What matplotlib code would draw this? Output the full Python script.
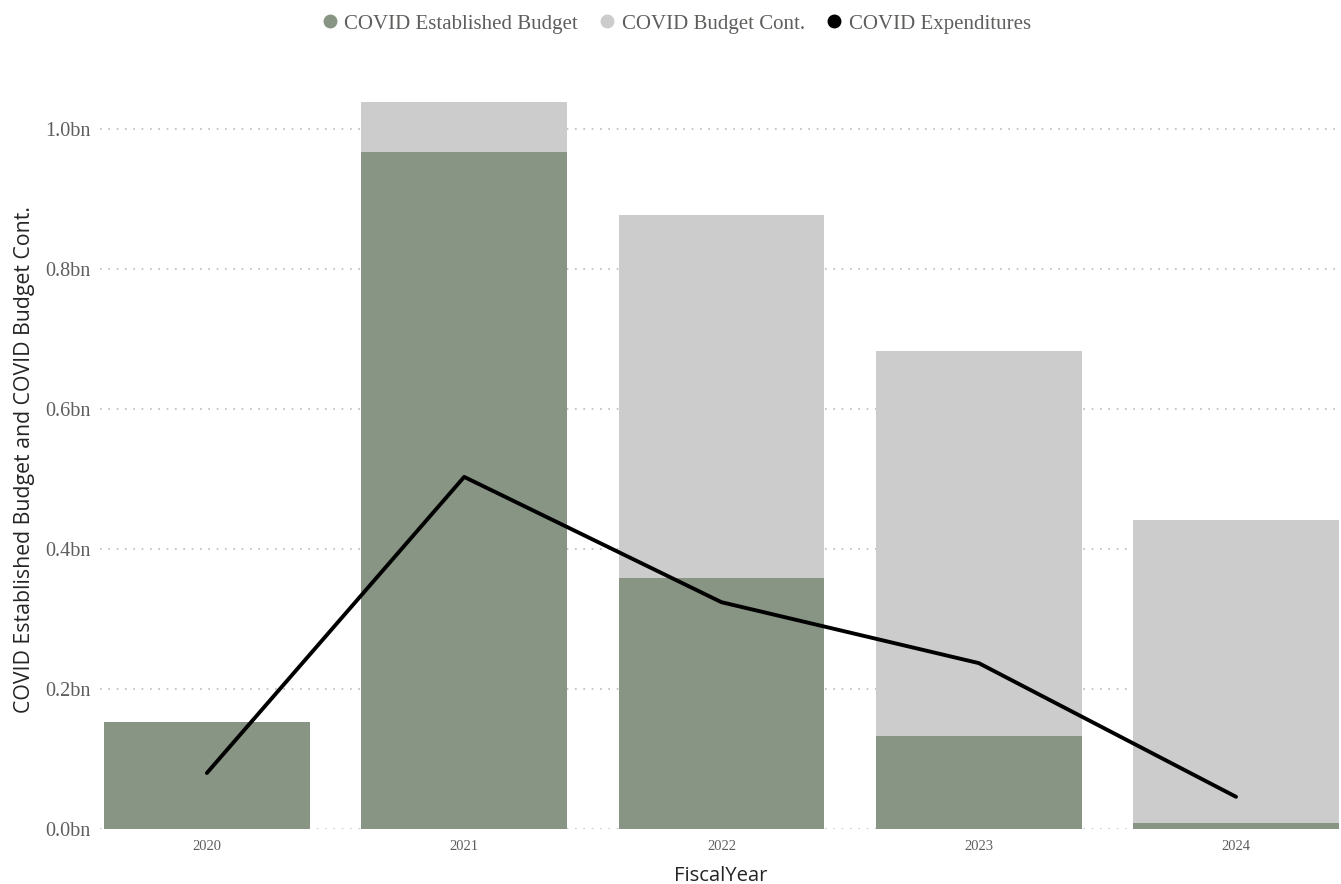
import numpy as np
import matplotlib.pyplot as plt
from matplotlib.lines import Line2D

years = ['2020', '2021', '2022', '2023', '2024']
established = [0.153, 0.967, 0.359, 0.133, 0.009]
budget_cont = [0.0, 0.072, 0.518, 0.550, 0.432]
expenditures = [0.080, 0.503, 0.324, 0.237, 0.046]

green = '#889484'
grey = '#CCCCCC'
serif = ['Liberation Serif', 'DejaVu Serif']
sans = ['Open Sans', 'DejaVu Sans']

fig = plt.figure(figsize=(13.41, 8.84), dpi=100)
ax = fig.add_axes([100 / 1341, 55 / 884, 1241 / 1341, 739 / 884])

x = np.arange(len(years))
ax.bar(x, established, width=0.8, color=green, zorder=2)
ax.bar(x, budget_cont, width=0.8, bottom=established, color=grey, zorder=2)
ax.plot(x, expenditures, color='black', lw=2.8, solid_capstyle='round',
        solid_joinstyle='round', zorder=3)

ax.set_xlim(-0.4155, 4.408)
ax.set_ylim(0, 1.0557)
ax.set_yticks([0, 0.2, 0.4, 0.6, 0.8, 1.0])
ax.set_yticklabels(['%.1fbn' % v for v in [0, 0.2, 0.4, 0.6, 0.8, 1.0]],
                   family=serif, fontsize=14.5, color='#605E5C')
ax.set_xticks(x)
ax.set_xticklabels(years, family=serif, fontsize=10.5, color='#605E5C')
ax.tick_params(length=0, pad=8)
ax.tick_params(axis='y', pad=7)

ax.grid(axis='y', linestyle=(0, (1, 4)), color='#BBBBBB', lw=1.2, zorder=1)
for s in ax.spines.values():
    s.set_visible(False)

ax.set_xlabel('FiscalYear', family=sans, fontsize=14.6, color='#252423', labelpad=9)
ax.set_ylabel('COVID Established Budget and COVID Budget Cont.', family=sans,
              fontsize=15.3, color='#252423', labelpad=7)

handles = [Line2D([], [], marker='o', ls='', color=c, markersize=9)
           for c in [green, grey, 'black']]
fig.legend(handles, ['COVID Established Budget', 'COVID Budget Cont.', 'COVID Expenditures'],
           loc='center', bbox_to_anchor=(670 / 1341, 1 - 24 / 884), ncol=3, frameon=False,
           prop={'family': serif, 'size': 15}, handletextpad=-0.3, columnspacing=0.4,
           labelcolor='#605E5C')

fig.savefig('out.png', dpi=100)
